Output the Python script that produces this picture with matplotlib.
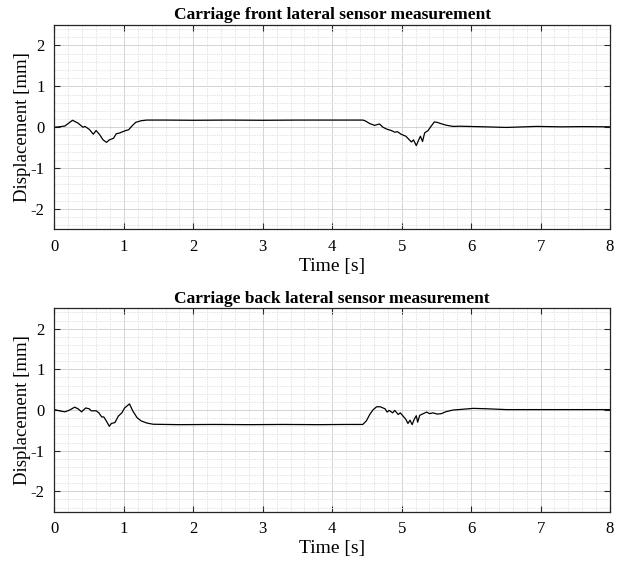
import matplotlib
matplotlib.use("Agg")
import matplotlib.pyplot as plt
from matplotlib.ticker import MultipleLocator

plt.rcParams['font.family'] = ['Liberation Serif', 'DejaVu Serif']
plt.rcParams['axes.unicode_minus'] = False

# Front lateral sensor (time [s], displacement [mm])
front_t = [0.00, 0.07, 0.15, 0.26, 0.34, 0.41, 0.44, 0.50, 0.56, 0.60, 0.65, 0.70,
           0.75, 0.79, 0.85, 0.89, 0.94, 0.98, 1.03, 1.07, 1.11, 1.17, 1.25, 1.33,
           1.60, 2.00, 2.50, 3.00, 3.50, 4.00, 4.44, 4.47, 4.54, 4.61, 4.68, 4.73,
           4.79, 4.85, 4.90, 4.94, 4.99, 5.06, 5.10, 5.14, 5.17, 5.21, 5.25, 5.27,
           5.30, 5.33, 5.38, 5.43, 5.47, 5.51, 5.57, 5.64, 5.74, 5.84, 5.95, 6.20,
           6.51, 6.94, 7.30, 7.60, 8.00]
front_y = [0.00, 0.01, 0.03, 0.17, 0.10, 0.00, 0.02, -0.05, -0.17, -0.08, -0.18, -0.31,
           -0.37, -0.31, -0.27, -0.16, -0.14, -0.11, -0.08, -0.06, 0.02, 0.12, 0.16, 0.175,
           0.175, 0.17, 0.175, 0.17, 0.175, 0.175, 0.175, 0.16, 0.09, 0.045, 0.08, 0.00,
           -0.05, -0.08, -0.12, -0.11, -0.17, -0.22, -0.29, -0.36, -0.31, -0.45, -0.29, -0.22,
           -0.35, -0.14, -0.08, 0.04, 0.13, 0.12, 0.085, 0.05, 0.02, 0.025, 0.02, 0.01,
           -0.005, 0.02, 0.01, 0.015, 0.01]

# Back lateral sensor (time [s], displacement [mm])
back_t = [0.00, 0.07, 0.15, 0.22, 0.29, 0.34, 0.39, 0.45, 0.50, 0.53, 0.60, 0.64,
          0.68, 0.71, 0.74, 0.79, 0.82, 0.87, 0.92, 0.97, 1.01, 1.08, 1.13, 1.19,
          1.25, 1.33, 1.42, 1.80, 2.30, 2.80, 3.30, 3.80, 4.20, 4.44, 4.49, 4.54,
          4.59, 4.64, 4.69, 4.76, 4.79, 4.82, 4.87, 4.90, 4.95, 4.98, 5.02, 5.06,
          5.09, 5.12, 5.15, 5.18, 5.21, 5.23, 5.26, 5.31, 5.36, 5.40, 5.45, 5.51,
          5.57, 5.64, 5.74, 5.82, 6.03, 6.23, 6.51, 6.99, 7.47, 8.00]
back_y = [0.01, -0.02, -0.045, 0.00, 0.07, 0.03, -0.045, 0.05, 0.03, -0.02, -0.02, -0.07,
          -0.17, -0.17, -0.25, -0.40, -0.33, -0.31, -0.15, -0.07, 0.05, 0.15, -0.03, -0.19,
          -0.27, -0.32, -0.35, -0.36, -0.355, -0.36, -0.355, -0.36, -0.355, -0.355, -0.27, -0.11,
          0.01, 0.08, 0.08, 0.03, -0.05, -0.01, -0.07, -0.01, -0.11, -0.07, -0.15, -0.23,
          -0.33, -0.25, -0.36, -0.23, -0.14, -0.30, -0.13, -0.09, -0.05, -0.09, -0.07, -0.10,
          -0.09, -0.04, 0.00, 0.01, 0.04, 0.03, 0.01, 0.01, 0.01, 0.01]

titles = ["Carriage front lateral sensor measurement",
          "Carriage back lateral sensor measurement"]
xlabel = "Time [s]"
ylabel = "Displacement [mm]"

fig = plt.figure(figsize=(6.26, 5.61), dpi=100)
ax_top = fig.add_axes([0.087, 0.591, 0.8875, 0.3644])
ax_bot = fig.add_axes([0.087, 0.0879, 0.8875, 0.3625])

frame = '#262626'
for ax, t, y, title in [(ax_top, front_t, front_y, titles[0]),
                        (ax_bot, back_t, back_y, titles[1])]:
    ax.plot(t, y, color='black', linewidth=0.9)
    ax.set_xlim(0, 8)
    ax.set_ylim(-2.5, 2.5)
    ax.xaxis.set_major_locator(MultipleLocator(1))
    ax.yaxis.set_major_locator(MultipleLocator(1))
    ax.xaxis.set_minor_locator(MultipleLocator(0.2))
    ax.yaxis.set_minor_locator(MultipleLocator(0.2))
    ax.grid(which='major', color='#d4d4d4', linewidth=0.7, linestyle='-')
    ax.grid(which='minor', color='#dcdcdc', linewidth=0.6, linestyle=(0, (1.5, 1.5)))
    ax.set_axisbelow(True)
    ax.tick_params(which='major', direction='in', length=4, width=0.8,
                   top=True, right=True, labelsize=12, colors=frame,
                   labelcolor='black', pad=7)
    ax.tick_params(which='minor', length=0, top=True, right=True)
    for s in ax.spines.values():
        s.set_color(frame)
        s.set_linewidth(0.9)
    ax.set_title(title, fontsize=12.5, fontweight='bold', pad=4)
    ax.set_xlabel(xlabel, fontsize=14, labelpad=2)
    ax.set_ylabel(ylabel, fontsize=13.5, labelpad=0)

fig.savefig("out.png", dpi=100)
